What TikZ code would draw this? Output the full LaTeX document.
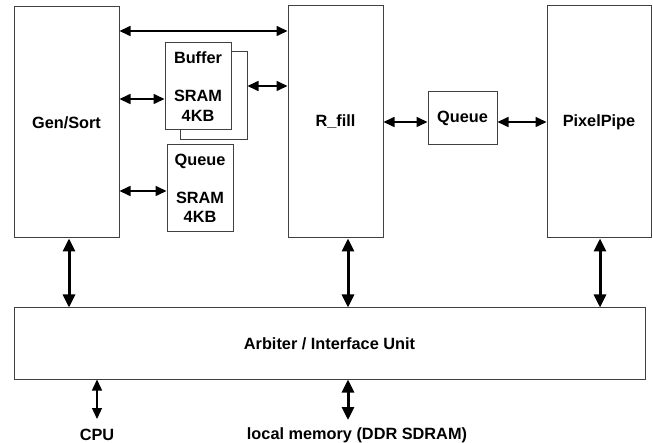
\documentclass[tikz,border=0pt]{standalone}
\usepackage{fontspec}
\setmainfont{Liberation Sans}
\usetikzlibrary{arrows.meta}
\definecolor{boxgray}{HTML}{404040}
\begin{document}
\begin{tikzpicture}[x=1pt,y=-1pt,
  txt/.style={font=\bfseries\fontsize{16.3}{19.5}\selectfont},
  box/.style={draw=boxgray, line width=1pt, fill=white, inner sep=0pt, align=center, txt},
  thinarrow/.style={line width=1.6pt, {Triangle[length=11pt,width=10pt]}-{Triangle[length=11pt,width=10pt]}},
  thickarrow/.style={line width=3pt, {Triangle[length=13pt,width=12pt]}-{Triangle[length=13pt,width=12pt]}}]
\useasboundingbox (0,0) rectangle (653,443);
% boxes
\node[box, minimum width=105pt, minimum height=231pt] (gen) at (66.5,122.5) {Gen/Sort};
\node[box, minimum width=95pt, minimum height=232pt] (rfill) at (335.5,122) {R\_fill};
\node[box, minimum width=104pt, minimum height=232pt] (pix) at (599,122) {PixelPipe};
\node[box, minimum width=631pt, minimum height=71pt] (arb) at (329.5,343.5) {Arbiter / Interface Unit};
\node[box, minimum width=67pt, minimum height=88pt] (bufs) at (213.5,96) {};
\node[box, minimum width=66pt, minimum height=87pt] (buf) at (198,86.5) {Buffer\\[19pt]SRAM\\4KB};
\node[box, minimum width=66pt, minimum height=87pt] (qs) at (200,188.5) {Queue\\[18pt]SRAM\\4KB};
\node[box, minimum width=69pt, minimum height=53pt] (q) at (462.5,118.5) {Queue};
% labels
\node[txt, inner sep=0pt] (cpu) at (97,435) {CPU};
\node[txt, inner sep=0pt] (mem) at (357,435) {local memory (DDR SDRAM)};
% helper coordinates
\coordinate (y1) at (0,31);
\coordinate (y2) at (0,99);
\coordinate (y3) at (0,86);
\coordinate (y4) at (0,191);
\coordinate (y5) at (0,122);
\coordinate (xg) at (69,0);
\coordinate (xr) at (348,0);
\coordinate (xp) at (600,0);
\coordinate (cpuend) at (97,419);
\coordinate (memend) at (348,420);
% connectors
\draw[thinarrow] (gen.east |- y1) -- (rfill.west |- y1);
\draw[thinarrow] (gen.east |- y2) -- (buf.west |- y2);
\draw[thinarrow] (bufs.east |- y3) -- (rfill.west |- y3);
\draw[thinarrow] (gen.east |- y4) -- (qs.west |- y4);
\draw[thinarrow] (rfill.east |- y5) -- (q.west |- y5);
\draw[thinarrow] (q.east |- y5) -- (pix.west |- y5);
\draw[thickarrow] (xg |- gen.south) -- (xg |- arb.north);
\draw[thickarrow] (xr |- rfill.south) -- (xr |- arb.north);
\draw[thickarrow] (xp |- pix.south) -- (xp |- arb.north);
\draw[thinarrow, line width=1.3pt] (cpuend |- arb.south) -- (cpuend);
\draw[thickarrow] (memend |- arb.south) -- (memend);
\end{tikzpicture}
\end{document}
